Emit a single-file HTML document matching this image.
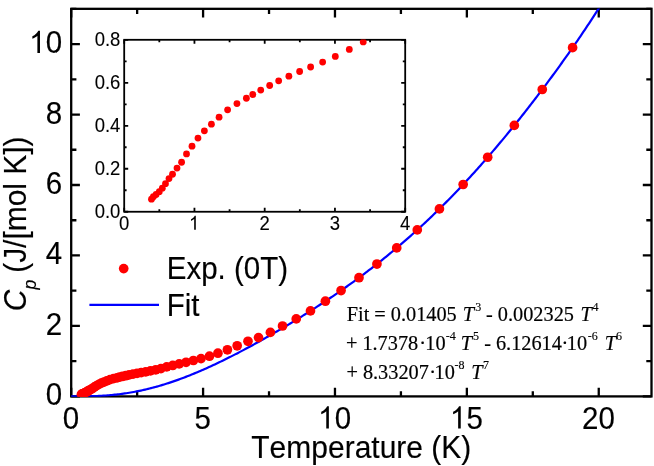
<!DOCTYPE html>
<html><head><meta charset="utf-8"><title>Cp vs Temperature</title>
<style>
html,body{margin:0;padding:0;background:#fff;}
body{width:654px;height:466px;overflow:hidden;}
svg{display:block;}
text{font-family:"Liberation Sans",sans-serif;fill:#000;font-kerning:none;}
.s{font-family:"Liberation Serif",serif;}
.i{font-style:italic;}
</style></head><body>
<svg width="654" height="466" viewBox="0 0 654 466">
<rect width="654" height="466" fill="#fff"/>
<defs><clipPath id="cm"><rect x="70.8" y="8.43" width="581.10" height="388.37"/></clipPath><clipPath id="ci"><rect x="123.9" y="39.5" width="281.60" height="172.55"/></clipPath></defs>
<g stroke="#000" stroke-width="2.3" fill="none" stroke-linecap="butt">
<rect x="71.2" y="8.83" width="580.30" height="387.57"/>
<path d="M71.20 396.4v-8.7M71.20 8.83v8.7M137.14 396.4v-5.2M137.14 8.83v5.2M203.09 396.4v-8.7M203.09 8.83v8.7M269.03 396.4v-5.2M269.03 8.83v5.2M334.97 396.4v-8.7M334.97 8.83v8.7M400.92 396.4v-5.2M400.92 8.83v5.2M466.86 396.4v-8.7M466.86 8.83v8.7M532.80 396.4v-5.2M532.80 8.83v5.2M598.75 396.4v-8.7M598.75 8.83v8.7M71.2 396.40h8.7M651.5 396.40h-8.7M71.2 361.17h5.2M651.5 361.17h-5.2M71.2 325.93h8.7M651.5 325.93h-8.7M71.2 290.70h5.2M651.5 290.70h-5.2M71.2 255.47h8.7M651.5 255.47h-8.7M71.2 220.23h5.2M651.5 220.23h-5.2M71.2 185.00h8.7M651.5 185.00h-8.7M71.2 149.76h5.2M651.5 149.76h-5.2M71.2 114.53h8.7M651.5 114.53h-8.7M71.2 79.30h5.2M651.5 79.30h-5.2M71.2 44.06h8.7M651.5 44.06h-8.7M71.2 8.83h5.2M651.5 8.83h-5.2"/>
</g>
<polyline clip-path="url(#cm)" fill="none" stroke="#0000ff" stroke-width="2.2" stroke-linejoin="round" points="71.20,396.40 72.65,396.40 74.10,396.40 75.55,396.40 77.00,396.39 78.45,396.39 79.90,396.38 81.36,396.37 82.81,396.36 84.26,396.34 85.71,396.32 87.16,396.30 88.61,396.27 90.06,396.24 91.51,396.20 92.96,396.16 94.41,396.11 95.86,396.05 97.31,395.99 98.76,395.93 100.22,395.85 101.67,395.77 103.12,395.68 104.57,395.59 106.02,395.49 107.47,395.38 108.92,395.26 110.37,395.14 111.82,395.00 113.27,394.86 114.72,394.71 116.17,394.56 117.62,394.39 119.07,394.22 120.53,394.03 121.98,393.84 123.43,393.64 124.88,393.43 126.33,393.22 127.78,392.99 129.23,392.76 130.68,392.51 132.13,392.26 133.58,392.00 135.03,391.73 136.48,391.45 137.93,391.16 139.39,390.86 140.84,390.56 142.29,390.24 143.74,389.92 145.19,389.58 146.64,389.24 148.09,388.89 149.54,388.53 150.99,388.16 152.44,387.79 153.89,387.40 155.34,387.01 156.79,386.61 158.25,386.19 159.70,385.78 161.15,385.35 162.60,384.91 164.05,384.47 165.50,384.02 166.95,383.56 168.40,383.09 169.85,382.61 171.30,382.13 172.75,381.64 174.20,381.14 175.65,380.63 177.10,380.11 178.56,379.59 180.01,379.06 181.46,378.53 182.91,377.98 184.36,377.43 185.81,376.87 187.26,376.31 188.71,375.74 190.16,375.16 191.61,374.58 193.06,373.98 194.51,373.39 195.96,372.78 197.42,372.17 198.87,371.56 200.32,370.93 201.77,370.31 203.22,369.67 204.67,369.03 206.12,368.39 207.57,367.73 209.02,367.08 210.47,366.41 211.92,365.75 213.37,365.07 214.82,364.39 216.27,363.71 217.73,363.02 219.18,362.33 220.63,361.63 222.08,360.93 223.53,360.22 224.98,359.51 226.43,358.79 227.88,358.07 229.33,357.34 230.78,356.61 232.23,355.88 233.68,355.14 235.13,354.39 236.59,353.65 238.04,352.90 239.49,352.14 240.94,351.38 242.39,350.62 243.84,349.85 245.29,349.08 246.74,348.30 248.19,347.52 249.64,346.74 251.09,345.96 252.54,345.17 253.99,344.37 255.45,343.58 256.90,342.78 258.35,341.97 259.80,341.17 261.25,340.35 262.70,339.54 264.15,338.72 265.60,337.90 267.05,337.08 268.50,336.25 269.95,335.42 271.40,334.59 272.85,333.75 274.31,332.91 275.76,332.07 277.21,331.22 278.66,330.37 280.11,329.52 281.56,328.66 283.01,327.80 284.46,326.94 285.91,326.07 287.36,325.20 288.81,324.33 290.26,323.46 291.71,322.58 293.16,321.69 294.62,320.81 296.07,319.92 297.52,319.03 298.97,318.13 300.42,317.23 301.87,316.33 303.32,315.43 304.77,314.52 306.22,313.60 307.67,312.69 309.12,311.77 310.57,310.85 312.02,309.92 313.48,308.99 314.93,308.05 316.38,307.12 317.83,306.17 319.28,305.23 320.73,304.28 322.18,303.33 323.63,302.37 325.08,301.41 326.53,300.44 327.98,299.48 329.43,298.50 330.88,297.53 332.33,296.54 333.79,295.56 335.24,294.57 336.69,293.57 338.14,292.58 339.59,291.57 341.04,290.56 342.49,289.55 343.94,288.54 345.39,287.51 346.84,286.49 348.29,285.46 349.74,284.42 351.19,283.38 352.65,282.33 354.10,281.28 355.55,280.23 357.00,279.17 358.45,278.10 359.90,277.03 361.35,275.95 362.80,274.87 364.25,273.78 365.70,272.69 367.15,271.59 368.60,270.49 370.05,269.38 371.51,268.26 372.96,267.14 374.41,266.02 375.86,264.88 377.31,263.74 378.76,262.60 380.21,261.45 381.66,260.29 383.11,259.13 384.56,257.96 386.01,256.79 387.46,255.60 388.91,254.42 390.36,253.22 391.82,252.02 393.27,250.81 394.72,249.60 396.17,248.38 397.62,247.16 399.07,245.92 400.52,244.69 401.97,243.44 403.42,242.19 404.87,240.93 406.32,239.66 407.77,238.39 409.22,237.11 410.68,235.83 412.13,234.53 413.58,233.24 415.03,231.93 416.48,230.62 417.93,229.30 419.38,227.97 420.83,226.63 422.28,225.29 423.73,223.94 425.18,222.59 426.63,221.23 428.08,219.86 429.54,218.48 430.99,217.10 432.44,215.70 433.89,214.30 435.34,212.90 436.79,211.49 438.24,210.07 439.69,208.64 441.14,207.20 442.59,205.76 444.04,204.31 445.49,202.85 446.94,201.39 448.39,199.92 449.85,198.44 451.30,196.95 452.75,195.46 454.20,193.95 455.65,192.45 457.10,190.93 458.55,189.41 460.00,187.88 461.45,186.34 462.90,184.79 464.35,183.24 465.80,181.68 467.25,180.11 468.71,178.54 470.16,176.95 471.61,175.36 473.06,173.77 474.51,172.16 475.96,170.55 477.41,168.93 478.86,167.31 480.31,165.68 481.76,164.04 483.21,162.39 484.66,160.74 486.11,159.07 487.57,157.41 489.02,155.73 490.47,154.05 491.92,152.36 493.37,150.66 494.82,148.96 496.27,147.25 497.72,145.53 499.17,143.81 500.62,142.08 502.07,140.34 503.52,138.59 504.97,136.84 506.42,135.08 507.88,133.32 509.33,131.55 510.78,129.77 512.23,127.98 513.68,126.19 515.13,124.39 516.58,122.59 518.03,120.77 519.48,118.95 520.93,117.13 522.38,115.30 523.83,113.46 525.28,111.61 526.74,109.76 528.19,107.90 529.64,106.03 531.09,104.16 532.54,102.28 533.99,100.40 535.44,98.51 536.89,96.61 538.34,94.70 539.79,92.79 541.24,90.87 542.69,88.94 544.14,87.01 545.60,85.07 547.05,83.12 548.50,81.17 549.95,79.21 551.40,77.24 552.85,75.27 554.30,73.28 555.75,71.29 557.20,69.30 558.65,67.29 560.10,65.28 561.55,63.26 563.00,61.23 564.45,59.20 565.91,57.16 567.36,55.11 568.81,53.05 570.26,50.98 571.71,48.90 573.16,46.82 574.61,44.73 576.06,42.63 577.51,40.51 578.96,38.39 580.41,36.26 581.86,34.13 583.31,31.98 584.77,29.82 586.22,27.65 587.67,25.47 589.12,23.28 590.57,21.08 592.02,18.86 593.47,16.64 594.92,14.40 596.37,12.15 597.82,9.89 599.27,7.62 600.72,5.33 602.17,3.03 603.63,0.72 605.08,-1.61 606.53,-3.95 607.98,-6.31 609.43,-8.68 610.88,-11.07 612.33,-13.48 613.78,-15.90 615.23,-18.34 616.68,-20.79 618.13,-23.27 619.58,-25.76 621.03,-28.27 622.49,-30.81 623.94,-33.36 625.39,-35.93 626.84,-38.53 628.29,-41.15 629.74,-43.79 631.19,-46.45 632.64,-49.14 634.09,-51.85 635.54,-54.59 636.99,-57.36 638.44,-60.15 639.89,-62.97 641.34,-65.82 642.80,-68.70 644.25,-71.61 645.70,-74.55 647.15,-77.53 648.60,-80.53 650.05,-83.57 651.50,-86.65"/>
<g fill="#ff0000" clip-path="url(#cm)">
<circle cx="81.44" cy="394.34" r="4.85"/>
<circle cx="82.16" cy="393.94" r="4.85"/>
<circle cx="83.19" cy="393.57" r="4.85"/>
<circle cx="84.37" cy="393.11" r="4.85"/>
<circle cx="85.51" cy="392.54" r="4.85"/>
<circle cx="86.70" cy="391.80" r="4.85"/>
<circle cx="88.02" cy="390.96" r="4.85"/>
<circle cx="89.34" cy="390.25" r="4.85"/>
<circle cx="91.03" cy="389.24" r="4.85"/>
<circle cx="92.75" cy="388.29" r="4.85"/>
<circle cx="94.60" cy="386.92" r="4.85"/>
<circle cx="96.66" cy="385.66" r="4.85"/>
<circle cx="98.90" cy="384.32" r="4.85"/>
<circle cx="101.31" cy="383.13" r="4.85"/>
<circle cx="103.95" cy="382.04" r="4.85"/>
<circle cx="106.83" cy="380.90" r="4.85"/>
<circle cx="110.02" cy="379.69" r="4.85"/>
<circle cx="113.54" cy="378.67" r="4.85"/>
<circle cx="117.08" cy="377.80" r="4.85"/>
<circle cx="119.48" cy="377.18" r="4.85"/>
<circle cx="122.46" cy="376.46" r="4.85"/>
<circle cx="125.82" cy="375.71" r="4.85"/>
<circle cx="129.20" cy="374.94" r="4.85"/>
<circle cx="133.03" cy="374.18" r="4.85"/>
<circle cx="137.07" cy="373.41" r="4.85"/>
<circle cx="141.19" cy="372.67" r="4.85"/>
<circle cx="145.71" cy="371.86" r="4.85"/>
<circle cx="150.46" cy="370.93" r="4.85"/>
<circle cx="155.72" cy="369.79" r="4.85"/>
<circle cx="160.95" cy="368.57" r="4.85"/>
<circle cx="166.71" cy="366.85" r="4.85"/>
<circle cx="172.77" cy="365.45" r="4.85"/>
<circle cx="179.21" cy="363.90" r="4.85"/>
<circle cx="186.06" cy="362.28" r="4.85"/>
<circle cx="193.39" cy="360.52" r="4.85"/>
<circle cx="201.04" cy="358.60" r="4.85"/>
<circle cx="209.48" cy="356.22" r="4.85"/>
<circle cx="217.92" cy="353.20" r="4.85"/>
<circle cx="227.41" cy="349.80" r="4.85"/>
<circle cx="237.17" cy="345.80" r="4.85"/>
<circle cx="247.98" cy="341.30" r="4.85"/>
<circle cx="258.53" cy="337.60" r="4.85"/>
<circle cx="270.39" cy="332.39" r="4.85"/>
<circle cx="282.52" cy="325.99" r="4.85"/>
<circle cx="296.24" cy="318.91" r="4.85"/>
<circle cx="310.48" cy="310.91" r="4.85"/>
<circle cx="325.40" cy="301.20" r="4.85"/>
<circle cx="341.07" cy="290.55" r="4.85"/>
<circle cx="359.00" cy="277.70" r="4.85"/>
<circle cx="376.93" cy="264.04" r="4.85"/>
<circle cx="396.71" cy="247.93" r="4.85"/>
<circle cx="417.27" cy="229.89" r="4.85"/>
<circle cx="439.43" cy="208.90" r="4.85"/>
<circle cx="463.16" cy="184.52" r="4.85"/>
<circle cx="487.68" cy="157.27" r="4.85"/>
<circle cx="514.32" cy="125.40" r="4.85"/>
<circle cx="542.27" cy="89.51" r="4.85"/>
<circle cx="572.59" cy="47.63" r="4.85"/>
</g>
<circle cx="123.7" cy="268.6" r="4.85" fill="#ff0000"/>
<line x1="89.4" y1="304.9" x2="159" y2="304.9" stroke="#0000ff" stroke-width="2.2"/>
<rect x="124.2" y="39.8" width="281.00" height="171.95" fill="#fff"/>
<g stroke="#000" stroke-width="1.8" fill="none">
<rect x="124.2" y="39.8" width="281.00" height="171.95"/>
<path d="M124.20 211.75v-4.0M124.20 39.8v4.0M159.32 211.75v-2.4M159.32 39.8v2.4M194.45 211.75v-4.0M194.45 39.8v4.0M229.57 211.75v-2.4M229.57 39.8v2.4M264.70 211.75v-4.0M264.70 39.8v4.0M299.82 211.75v-2.4M299.82 39.8v2.4M334.95 211.75v-4.0M334.95 39.8v4.0M370.07 211.75v-2.4M370.07 39.8v2.4M405.20 211.75v-4.0M405.20 39.8v4.0M124.2 211.75h4.0M405.2 211.75h-4.0M124.2 190.26h2.4M405.2 190.26h-2.4M124.2 168.76h4.0M405.2 168.76h-4.0M124.2 147.27h2.4M405.2 147.27h-2.4M124.2 125.78h4.0M405.2 125.78h-4.0M124.2 104.28h2.4M405.2 104.28h-2.4M124.2 82.79h4.0M405.2 82.79h-4.0M124.2 61.29h2.4M405.2 61.29h-2.4M124.2 39.80h4.0M405.2 39.80h-4.0"/>
</g>
<g fill="#ff0000" clip-path="url(#ci)">
<circle cx="151.48" cy="199.20" r="3.4"/>
<circle cx="153.38" cy="196.74" r="3.4"/>
<circle cx="156.12" cy="194.49" r="3.4"/>
<circle cx="159.29" cy="191.71" r="3.4"/>
<circle cx="162.31" cy="188.18" r="3.4"/>
<circle cx="165.48" cy="183.68" r="3.4"/>
<circle cx="168.99" cy="178.54" r="3.4"/>
<circle cx="172.51" cy="174.26" r="3.4"/>
<circle cx="177.01" cy="168.05" r="3.4"/>
<circle cx="181.59" cy="162.27" r="3.4"/>
<circle cx="186.51" cy="153.92" r="3.4"/>
<circle cx="192.00" cy="146.21" r="3.4"/>
<circle cx="197.98" cy="138.08" r="3.4"/>
<circle cx="204.38" cy="130.80" r="3.4"/>
<circle cx="211.42" cy="124.16" r="3.4"/>
<circle cx="219.08" cy="117.20" r="3.4"/>
<circle cx="227.60" cy="109.82" r="3.4"/>
<circle cx="236.95" cy="103.61" r="3.4"/>
<circle cx="246.38" cy="98.26" r="3.4"/>
<circle cx="252.78" cy="94.51" r="3.4"/>
<circle cx="260.73" cy="90.12" r="3.4"/>
<circle cx="269.67" cy="85.52" r="3.4"/>
<circle cx="278.67" cy="80.81" r="3.4"/>
<circle cx="288.87" cy="76.20" r="3.4"/>
<circle cx="299.63" cy="71.49" r="3.4"/>
<circle cx="310.61" cy="67.00" r="3.4"/>
<circle cx="322.64" cy="62.07" r="3.4"/>
<circle cx="335.30" cy="56.40" r="3.4"/>
<circle cx="349.30" cy="49.44" r="3.4"/>
<circle cx="363.23" cy="41.95" r="3.4"/>
</g>
<g style="filter:grayscale(1)">
<text transform="translate(62.70,428.55) scale(1,1.05)" font-size="29.5" text-anchor="start" stroke="#000" stroke-width="0.15">0</text>
<text transform="translate(194.58,428.55) scale(1,1.05)" font-size="29.5" text-anchor="start" stroke="#000" stroke-width="0.15">5</text>
<path d="M763 0L583 0L583 1147Q518 1085 413 1023Q308 961 234 939L234 1113Q380 1180 489 1280Q598 1380 647 1472L763 1472Z" transform="translate(317.87,428.55) scale(0.014404,-0.015125)" fill="#000"/>
<text transform="translate(334.67,428.55) scale(1,1.05)" font-size="29.5" text-anchor="start" stroke="#000" stroke-width="0.15">0</text>
<path d="M763 0L583 0L583 1147Q518 1085 413 1023Q308 961 234 939L234 1113Q380 1180 489 1280Q598 1380 647 1472L763 1472Z" transform="translate(449.75,428.55) scale(0.014404,-0.015125)" fill="#000"/>
<text transform="translate(466.56,428.55) scale(1,1.05)" font-size="29.5" text-anchor="start" stroke="#000" stroke-width="0.15">5</text>
<text transform="translate(582.04,428.55) scale(1,1.05)" font-size="29.5" text-anchor="start" stroke="#000" stroke-width="0.15">2</text>
<text transform="translate(598.45,428.55) scale(1,1.05)" font-size="29.5" text-anchor="start" stroke="#000" stroke-width="0.15">0</text>
<text transform="translate(45.79,405.40) scale(1,1.05)" font-size="29.5" text-anchor="start" stroke="#000" stroke-width="0.15">0</text>
<text transform="translate(45.79,334.93) scale(1,1.05)" font-size="29.5" text-anchor="start" stroke="#000" stroke-width="0.15">2</text>
<text transform="translate(45.79,264.47) scale(1,1.05)" font-size="29.5" text-anchor="start" stroke="#000" stroke-width="0.15">4</text>
<text transform="translate(45.79,194.00) scale(1,1.05)" font-size="29.5" text-anchor="start" stroke="#000" stroke-width="0.15">6</text>
<text transform="translate(45.79,123.53) scale(1,1.05)" font-size="29.5" text-anchor="start" stroke="#000" stroke-width="0.15">8</text>
<path d="M763 0L583 0L583 1147Q518 1085 413 1023Q308 961 234 939L234 1113Q380 1180 489 1280Q598 1380 647 1472L763 1472Z" transform="translate(28.99,53.06) scale(0.014404,-0.015125)" fill="#000"/>
<text transform="translate(45.79,53.06) scale(1,1.05)" font-size="29.5" text-anchor="start" stroke="#000" stroke-width="0.15">0</text>
<text transform="translate(361.30,458.20) scale(1,1.045)" font-size="30.0" text-anchor="middle" stroke="#000" stroke-width="0.15">Temperature (K)</text>
<text transform="translate(25.70,311.20) rotate(-90) scale(1,1.03)" font-size="29.95" text-anchor="start" stroke="#000" stroke-width="0.15"><tspan class="i">C</tspan><tspan class="i" font-size="17.5" dy="10.1">p</tspan><tspan dy="-10.1" dx="-1.3"> (J/[mol K])</tspan></text>
<text transform="translate(166.80,279.20) scale(1,1.05)" font-size="29.5" text-anchor="start" stroke="#000" stroke-width="0.15">Exp. (0T)</text>
<text transform="translate(166.80,315.50) scale(1,1.05)" font-size="29.5" text-anchor="start" stroke="#000" stroke-width="0.15">Fit</text>
<text transform="translate(119.06,229.80) scale(1,1.05)" font-size="18.5" text-anchor="start" stroke="#000" stroke-width="0.1">0</text>
<path d="M763 0L583 0L583 1147Q518 1085 413 1023Q308 961 234 939L234 1113Q380 1180 489 1280Q598 1380 647 1472L763 1472Z" transform="translate(188.91,229.80) scale(0.009033,-0.009485)" fill="#000"/>
<text transform="translate(259.56,229.80) scale(1,1.05)" font-size="18.5" text-anchor="start" stroke="#000" stroke-width="0.1">2</text>
<text transform="translate(329.81,229.80) scale(1,1.05)" font-size="18.5" text-anchor="start" stroke="#000" stroke-width="0.1">3</text>
<text transform="translate(400.06,229.80) scale(1,1.05)" font-size="18.5" text-anchor="start" stroke="#000" stroke-width="0.1">4</text>
<text transform="translate(120.40,217.75) scale(1,1.05)" font-size="18.5" text-anchor="end" stroke="#000" stroke-width="0.1">0.0</text>
<text transform="translate(120.40,174.76) scale(1,1.05)" font-size="18.5" text-anchor="end" stroke="#000" stroke-width="0.1">0.2</text>
<text transform="translate(120.40,131.78) scale(1,1.05)" font-size="18.5" text-anchor="end" stroke="#000" stroke-width="0.1">0.4</text>
<text transform="translate(120.40,88.79) scale(1,1.05)" font-size="18.5" text-anchor="end" stroke="#000" stroke-width="0.1">0.6</text>
<text transform="translate(120.40,45.80) scale(1,1.05)" font-size="18.5" text-anchor="end" stroke="#000" stroke-width="0.1">0.8</text>
<text class="s" font-size="20.3" x="346.72" y="320.70" xml:space="preserve" stroke="#000" stroke-width="0.2">Fit = 0.01405</text>
<text class="s i" font-size="20.3" x="462.87" y="320.70" stroke="#000" stroke-width="0.2">T</text>
<text class="s" font-size="12.0" x="475.23" y="310.90" stroke="#000" stroke-width="0.15">3</text>
<text class="s" font-size="20.3" x="486.05" y="320.70" xml:space="preserve" stroke="#000" stroke-width="0.2">- 0.002325</text>
<text class="s i" font-size="20.3" x="580.47" y="320.70" stroke="#000" stroke-width="0.2">T</text>
<text class="s" font-size="12.0" x="592.57" y="310.90" stroke="#000" stroke-width="0.15">4</text>
<text class="s" font-size="20.3" x="345.89" y="349.80" xml:space="preserve" stroke="#000" stroke-width="0.2">+ 1.7378</text>
<text class="s" font-size="20.3" x="419.32" y="349.80" xml:space="preserve" stroke="#000" stroke-width="0.2">·</text>
<text class="s" font-size="20.3" x="425.32" y="349.80" xml:space="preserve" stroke="#000" stroke-width="0.2">10</text>
<text class="s" font-size="12.0" x="445.65" y="340.00" stroke="#000" stroke-width="0.15">-4</text>
<text class="s i" font-size="20.3" x="460.87" y="349.80" stroke="#000" stroke-width="0.2">T</text>
<text class="s" font-size="12.0" x="473.10" y="340.00" stroke="#000" stroke-width="0.15">5</text>
<text class="s" font-size="20.3" x="484.15" y="349.80" xml:space="preserve" stroke="#000" stroke-width="0.2">- 6.12614</text>
<text class="s" font-size="20.3" x="561.52" y="349.80" xml:space="preserve" stroke="#000" stroke-width="0.2">·</text>
<text class="s" font-size="20.3" x="566.82" y="349.80" xml:space="preserve" stroke="#000" stroke-width="0.2">10</text>
<text class="s" font-size="12.0" x="587.65" y="340.00" stroke="#000" stroke-width="0.15">-6</text>
<text class="s i" font-size="20.3" x="604.67" y="349.80" stroke="#000" stroke-width="0.2">T</text>
<text class="s" font-size="12.0" x="615.98" y="340.00" stroke="#000" stroke-width="0.15">6</text>
<text class="s" font-size="20.3" x="346.39" y="378.50" xml:space="preserve" stroke="#000" stroke-width="0.2">+ 8.33207</text>
<text class="s" font-size="20.3" x="429.32" y="378.50" xml:space="preserve" stroke="#000" stroke-width="0.2">·</text>
<text class="s" font-size="20.3" x="434.52" y="378.50" xml:space="preserve" stroke="#000" stroke-width="0.2">10</text>
<text class="s" font-size="12.0" x="454.55" y="368.70" stroke="#000" stroke-width="0.15">-8</text>
<text class="s i" font-size="20.3" x="471.37" y="378.50" stroke="#000" stroke-width="0.2">T</text>
<text class="s" font-size="12.0" x="482.91" y="368.70" stroke="#000" stroke-width="0.15">7</text>
</g>
</svg></body></html>
